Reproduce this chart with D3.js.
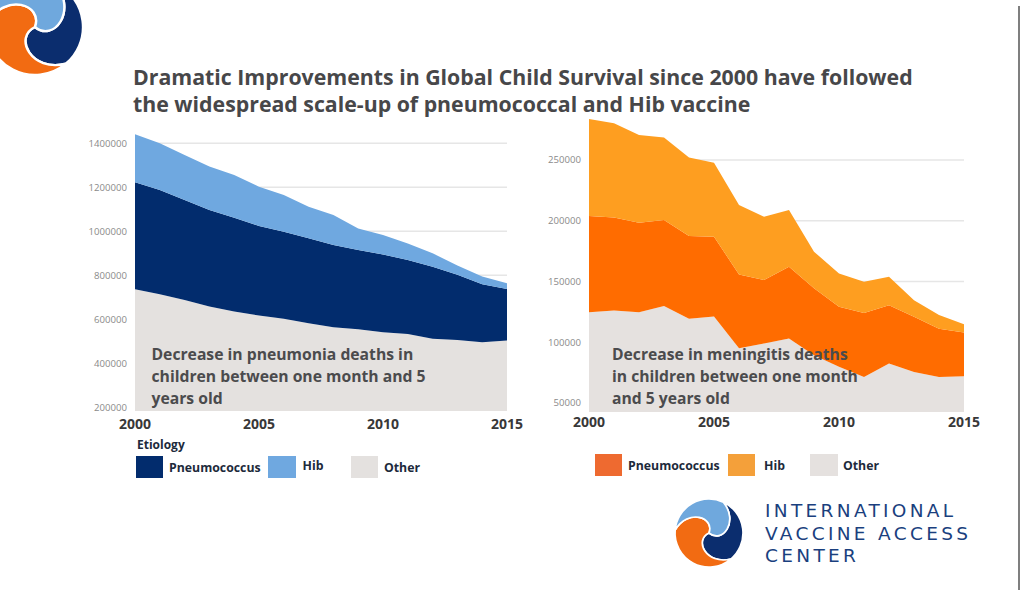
<!DOCTYPE html>
<html><head><meta charset="utf-8">
<script src="https://cdn.jsdelivr.net/npm/d3@7"></script>
<style>
body{margin:0;background:#fff;}
svg{display:block;font-family:"Open Sans",sans-serif;}
</style>
</head><body>
<svg id="c" width="1024" height="598"></svg>
<script>
// ---------------- DATA ----------------
const years = [2000,2001,2002,2003,2004,2005,2006,2007,2008,2009,2010,2011,2012,2013,2014,2015];
const seriesKeys = ["Other","Pneumococcus","Hib"];
const legendLabels = ["Pneumococcus","Hib","Other"];
const xTickYears = [2000,2005,2010,2015];

// Pneumonia deaths (children 1 month - 5 years)
const pneumoniaOther        = [736000,714000,688000,658000,635000,617000,602000,582000,564000,555000,541000,533000,511000,506000,495000,503000];
const pneumoniaPneumococcus = [487000,474000,454000,439000,427000,407000,396000,386000,374000,360000,354000,337000,328000,296000,264000,235000];
const pneumoniaHib          = [218000,212000,205000,197000,194000,179000,167000,144000,136000,98000,88000,75000,61000,43000,35000,26000];
const pneumoniaTicks = [200000,400000,600000,800000,1000000,1200000,1400000];

// Meningitis deaths (children 1 month - 5 years)
const meningitisOther        = [124700,126100,124700,129700,119200,121200,95000,99000,103000,89300,79700,71400,82400,75500,71400,72000];
const meningitisPneumococcus = [79100,76600,73700,70800,68200,65600,60800,52100,59100,55000,49400,52700,48100,45500,39600,36000];
const meningitisHib          = [79900,77500,72100,68100,64700,60900,57100,52200,46700,30200,27500,25600,23300,13600,11300,6800];
const meningitisTicks = [50000,100000,150000,200000,250000];

const titleLines = ["Dramatic Improvements in Global Child Survival since 2000 have followed",
                    "the widespread scale-up of pneumococcal and Hib vaccine"];
const pneumoniaNote = ["Decrease in pneumonia deaths in","children between one month and 5","years old"];
const meningitisNote = ["Decrease in meningitis deaths","in children between one month","and 5 years old"];
const logoLines = ["INTERNATIONAL","VACCINE ACCESS","CENTER"];

// ---------------- DRAW ----------------
const svg = d3.select("#c");
svg.append("rect").attr("width",1024).attr("height",598).attr("fill","#fff");

function fitSize(sel, target){
  const w = sel.node().getComputedTextLength();
  const fs = parseFloat(sel.attr("font-size"));
  return fs*target/w;
}

function drawPanel(cfg){
  const rows = years.map((yr,i)=>({year:yr, Other:cfg.other[i], Pneumococcus:cfg.pneumo[i], Hib:cfg.hib[i]}));
  const x = d3.scaleLinear().domain([2000,2015]).range(cfg.xr);
  const y = d3.scaleLinear().domain(cfg.yd).range(cfg.yr);
  const g = svg.append("g");
  // grid
  g.selectAll("line.grid").data(cfg.ticks).join("line")
    .attr("x1",cfg.xr[0]).attr("x2",cfg.xr[1])
    .attr("y1",d=>y(d)).attr("y2",d=>y(d))
    .attr("stroke","#e6e6e6").attr("stroke-width",1.5);
  const stack = d3.stack().keys(seriesKeys)(rows);
  const area = d3.area().x(d=>x(d.data.year))
    .y0(d=>y(Math.max(d[0],cfg.yd[0]))).y1(d=>y(d[1]));
  g.selectAll("path.layer").data(stack).join("path")
    .attr("d",area).attr("fill",d=>cfg.colors[d.key]);
  // y ticks
  g.selectAll("text.yt").data(cfg.ticks).join("text")
    .attr("x",cfg.xr[0]-8).attr("y",d=>y(d)).attr("dy","0.35em")
    .attr("text-anchor","end").attr("font-size",9.6).attr("fill","#8a8a8a")
    .text(d=>d);
  // x ticks
  g.selectAll("text.xt").data(xTickYears).join("text")
    .attr("x",d=>x(d)).attr("y",cfg.xLabelY)
    .attr("text-anchor","middle").attr("font-size",14).attr("font-weight",700)
    .attr("fill","#383838").text(d=>d);
  // note
  const nt = g.append("text").attr("font-weight",700).attr("fill","#4b4b4d").attr("font-size",16);
  cfg.note.forEach((s,i)=>nt.append("tspan").attr("x",cfg.noteX).attr("y",cfg.noteY[i]).text(s));
  const tmp = g.append("text").attr("font-weight",700).attr("font-size",16).text(cfg.note[cfg.noteFit]);
  const fs = fitSize(tmp, cfg.noteW); tmp.remove();
  nt.attr("font-size",fs);
  // legend
  const lg = svg.append("g");
  legendLabels.forEach((lab,i)=>{
    const L = cfg.legend[i];
    lg.append("rect").attr("x",L[0]).attr("y",cfg.legendY).attr("width",L[1]).attr("height",22)
      .attr("fill",cfg.legendColors[lab]);
    lg.append("text").attr("x",L[2]).attr("y",cfg.legendY+16 + (L[3]||0))
      .attr("font-size",12.3).attr("font-weight",700).attr("fill","#1d2a3b").text(lab);
  });
}

drawPanel({
  other:pneumoniaOther, pneumo:pneumoniaPneumococcus, hib:pneumoniaHib,
  xr:[135,507], yd:[183000,1400000], yr:[411,143.3], ticks:pneumoniaTicks,
  colors:{Other:"#e4e1df",Pneumococcus:"#022c6d",Hib:"#6fa8e0"},
  legendColors:{Other:"#e4e1df",Pneumococcus:"#022c6d",Hib:"#6fa8e0"},
  xLabelY:428.5, note:pneumoniaNote, noteX:151.5, noteY:[360,382,403.5], noteFit:0, noteW:262,
  legend:[[136,27,169],[268,28,302.5,-2],[351,27,384]], legendY:456
});
drawPanel({
  other:meningitisOther, pneumo:meningitisPneumococcus, hib:meningitisHib,
  xr:[589,964], yd:[42500,250000], yr:[412,160], ticks:meningitisTicks,
  colors:{Other:"#e5e1df",Pneumococcus:"#ff6c00",Hib:"#fe9e20"},
  legendColors:{Other:"#e5e1df",Pneumococcus:"#ee6a30",Hib:"#f4a03a"},
  xLabelY:427, note:meningitisNote, noteX:612, noteY:[360,382,403.5], noteFit:1, noteW:246,
  legend:[[595,27,628],[728,27,764],[810,28,843]], legendY:454
});

// Etiology label
svg.append("text").attr("x",137).attr("y",448.5).attr("font-size",12).attr("font-weight",700)
  .attr("fill","#1d2a3b").text("Etiology");

// Title
const tt = svg.append("text").attr("font-size",20).attr("font-weight",700).attr("fill","#474749");
titleLines.forEach((s,i)=>tt.append("tspan").attr("x",133).attr("y",[85,112][i]).text(s));
{
  const tmp = svg.append("text").attr("font-size",20).attr("font-weight",700).text(titleLines[0]);
  const fs = fitSize(tmp,780); tmp.remove(); tt.attr("font-size",fs);
}

// Logos
function logo(cx,cy,R){
  const g = svg.append("g").attr("transform",`translate(${cx},${cy})`);
  const rad = a=>a*Math.PI/180;
  const P = (r,a)=>[r*Math.cos(rad(a)), r*Math.sin(rad(a))];
  const toCenter = a=>{const c1=P(R*0.95,a+45), c2=P(R*0.5,a+105);
    return `C${c1[0]},${c1[1]} ${c2[0]},${c2[1]} 0,0`;};
  const fromCenter = a=>{const c1=P(R*0.95,a+45), c2=P(R*0.5,a+105), p=P(R,a);
    return `C${c2[0]},${c2[1]} ${c1[0]},${c1[1]} ${p[0]},${p[1]}`;};
  const parts = [[-65,50,"#0b2d6e"],[50,185,"#f26b12"],[185,295,"#6fa8dd"]];
  parts.forEach(([a,b,col])=>{
    const pb = P(R,b);
    const large = (b-a)>180?1:0;
    const d = `M0,0 ${fromCenter(a)} A${R},${R} 0 ${large} 1 ${pb[0]},${pb[1]} ${toCenter(b)} Z`;
    g.append("path").attr("d",d).attr("fill",col).attr("stroke","#fff").attr("stroke-width",R*0.05).attr("stroke-linejoin","round");
  });
}
logo(35,27,48);
logo(709,533,34);

// logo text: wide sans, letter-spacing fitted to width
const lt = svg.append("text").attr("font-family","DejaVu Sans, sans-serif").attr("font-size",18.5)
  .attr("fill","#1a3f7e");
logoLines.forEach((s,i)=>lt.append("tspan").attr("x",765).attr("y",[517,540,562][i]).text(s));
{
  const tmp = svg.append("text").attr("font-family","DejaVu Sans, sans-serif").attr("font-size",18.5).text(logoLines[1]);
  const w = tmp.node().getComputedTextLength(); tmp.remove();
  lt.attr("letter-spacing", Math.max(0,(203-w)/(logoLines[1].length-1)));
}

// right frame line
svg.append("line").attr("x1",1019).attr("x2",1019).attr("y1",6).attr("y2",590)
  .attr("stroke","#555").attr("stroke-width",1.5);
</script>
</body></html>
